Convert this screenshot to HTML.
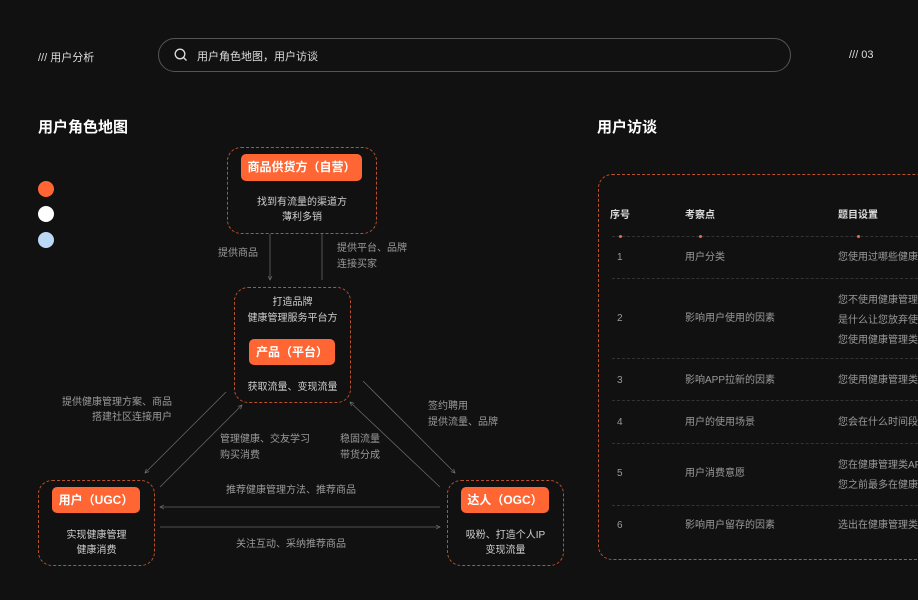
<!DOCTYPE html>
<html><head><meta charset="utf-8"><style>
*{margin:0;padding:0;box-sizing:border-box}
html,body{width:918px;height:600px;overflow:hidden;background:#111;}
body{position:relative;font-family:"Liberation Sans","Noto Sans CJK SC",sans-serif;color:#ddd;}
.a{position:absolute;white-space:nowrap;}
.t{font-size:10px;color:#9a9a9a;line-height:15px}
.w{font-size:10px;color:#cfcfcf;line-height:15px}
.box{position:absolute;border:1px dashed #b8512c;border-radius:14px;}
.btn{position:absolute;background:#ff6634;border-radius:5px;color:#fff;font-size:12px;font-weight:bold;text-align:center;}
.c{text-align:center}
.dot{position:absolute;width:16px;height:16px;border-radius:50%}
#tbl{position:absolute;left:598px;top:170px;width:320px;height:400px;overflow:hidden}
#tbl .a{margin-left:-598px;margin-top:-170px}
</style></head><body>
<div class="a" style="left:38px;top:49px;font-size:11px;color:#ddd">/// 用户分析</div>
<div class="a" style="left:158px;top:38px;width:633px;height:34px;border:1px solid #555;border-radius:17px"></div>
<svg class="a" style="left:174px;top:48px" width="14" height="14"><circle cx="6" cy="6" r="4.8" fill="none" stroke="#ddd" stroke-width="1.3"/><line x1="9.5" y1="9.5" x2="12.5" y2="12.5" stroke="#ddd" stroke-width="1.3"/></svg>
<div class="a" style="left:197px;top:48px;font-size:11px;color:#ddd">用户角色地图，用户访谈</div>
<div class="a" style="left:849px;top:49px;font-size:11px;color:#ddd">/// 03</div>
<div class="a" style="left:38px;top:116px;font-size:15px;font-weight:bold;color:#fff">用户角色地图</div>
<div class="a" style="left:597px;top:116px;font-size:15px;font-weight:bold;color:#fff">用户访谈</div>
<div class="dot" style="left:38px;top:181px;background:#ff6634"></div>
<div class="dot" style="left:38px;top:206px;background:#fff"></div>
<div class="dot" style="left:38px;top:232px;background:#bcd8f7"></div>

<svg class="a" style="left:0;top:0" width="918" height="600">
<defs><marker id="m" markerWidth="6" markerHeight="6" refX="5" refY="3" orient="auto"><path d="M0,0.5 L5,3 L0,5.5" fill="none" stroke="#777" stroke-width="0.8"/></marker></defs>
<g stroke="#666" stroke-width="0.8" fill="none">
<line x1="270" y1="234" x2="270" y2="280" marker-end="url(#m)"/>
<line x1="322" y1="234" x2="322" y2="280"/>
<line x1="226" y1="392" x2="145" y2="473" marker-end="url(#m)"/>
<line x1="160" y1="487" x2="242" y2="405" marker-end="url(#m)"/>
<line x1="440" y1="487" x2="350" y2="402" marker-end="url(#m)"/>
<line x1="363" y1="381" x2="455" y2="473" marker-end="url(#m)"/>
<line x1="440" y1="507" x2="160" y2="507" marker-end="url(#m)"/>
<line x1="160" y1="527" x2="440" y2="527" marker-end="url(#m)"/>
</g>
</svg>

<div class="box" style="left:227px;top:147px;width:150px;height:87px"></div>
<div class="btn" style="left:241px;top:154px;width:121px;height:27px;line-height:27px">商品供货方（自营）</div>
<div class="a w c" style="left:227px;top:195px;width:150px">找到有流量的渠道方<br>薄利多销</div>
<div class="a t" style="left:218px;top:246px">提供商品</div>
<div class="a t" style="left:337px;top:241px;line-height:16px">提供平台、品牌<br>连接买家</div>

<div class="box" style="left:234px;top:287px;width:117px;height:116px"></div>
<div class="a w c" style="left:234px;top:295px;width:117px;line-height:16px">打造品牌<br>健康管理服务平台方</div>
<div class="btn" style="left:249px;top:339px;width:86px;height:26px;line-height:26px">产品（平台）</div>
<div class="a w c" style="left:234px;top:380px;width:117px">获取流量、变现流量</div>

<div class="a t" style="left:40px;top:395px;width:132px;text-align:right;line-height:15px">提供健康管理方案、商品<br>搭建社区连接用户</div>
<div class="a t" style="left:220px;top:432px;line-height:16px">管理健康、交友学习<br>购买消费</div>
<div class="a t" style="left:340px;top:432px;line-height:16px">稳固流量<br>带货分成</div>
<div class="a t" style="left:428px;top:399px;line-height:16px">签约聘用<br>提供流量、品牌</div>
<div class="a t c" style="left:191px;top:483px;width:200px">推荐健康管理方法、推荐商品</div>
<div class="a t c" style="left:191px;top:537px;width:200px">关注互动、采纳推荐商品</div>

<div class="box" style="left:38px;top:480px;width:117px;height:86px"></div>
<div class="btn" style="left:52px;top:487px;width:88px;height:26px;line-height:26px">用户（UGC）</div>
<div class="a w c" style="left:38px;top:528px;width:117px">实现健康管理<br>健康消费</div>
<div class="box" style="left:447px;top:480px;width:117px;height:86px"></div>
<div class="btn" style="left:461px;top:487px;width:88px;height:26px;line-height:26px">达人（OGC）</div>
<div class="a w c" style="left:447px;top:528px;width:117px">吸粉、打造个人IP<br>变现流量</div>

<div id="tbl">
<div class="box" style="left:0;top:4px;width:340px;height:386px"></div>
<div class="a" style="left:610px;top:206px;font-size:10px;font-weight:bold;color:#ddd">序号</div>
<div class="a" style="left:685px;top:206px;font-size:10px;font-weight:bold;color:#ddd">考察点</div>
<div class="a" style="left:838px;top:206px;font-size:10px;font-weight:bold;color:#ddd">题目设置</div>
<div class="a" style="left:612px;top:236px;width:306px;border-top:1px dashed #333"></div>
<div class="a" style="left:619px;top:235px;width:3px;height:3px;background:#ff6634;border-radius:50%"></div>
<div class="a" style="left:699px;top:235px;width:3px;height:3px;background:#ff6634;border-radius:50%"></div>
<div class="a" style="left:857px;top:235px;width:3px;height:3px;background:#ff6634;border-radius:50%"></div>
<div class="a" style="left:612px;top:278px;width:306px;border-top:1px dashed #333"></div>
<div class="a" style="left:612px;top:358px;width:306px;border-top:1px dashed #333"></div>
<div class="a" style="left:612px;top:400px;width:306px;border-top:1px dashed #333"></div>
<div class="a" style="left:612px;top:443px;width:306px;border-top:1px dashed #333"></div>
<div class="a" style="left:612px;top:505px;width:306px;border-top:1px dashed #333"></div>
<div class="a t" style="left:617px;top:250px">1</div><div class="a t" style="left:685px;top:250px">用户分类</div><div class="a t" style="left:838px;top:250px">您使用过哪些健康管理类APP</div>
<div class="a t" style="left:617px;top:311px">2</div><div class="a t" style="left:685px;top:311px">影响用户使用的因素</div><div class="a t" style="left:838px;top:291px;line-height:20px">您不使用健康管理类APP<br>是什么让您放弃使用<br>您使用健康管理类APP</div>
<div class="a t" style="left:617px;top:373px">3</div><div class="a t" style="left:685px;top:373px">影响APP拉新的因素</div><div class="a t" style="left:838px;top:373px">您使用健康管理类APP</div>
<div class="a t" style="left:617px;top:415px">4</div><div class="a t" style="left:685px;top:415px">用户的使用场景</div><div class="a t" style="left:838px;top:415px">您会在什么时间段使用</div>
<div class="a t" style="left:617px;top:466px">5</div><div class="a t" style="left:685px;top:466px">用户消费意愿</div><div class="a t" style="left:838px;top:456px;line-height:20px">您在健康管理类APP<br>您之前最多在健康管理</div>
<div class="a t" style="left:617px;top:518px">6</div><div class="a t" style="left:685px;top:518px">影响用户留存的因素</div><div class="a t" style="left:838px;top:518px">选出在健康管理类APP</div>
</div>
</body></html>
